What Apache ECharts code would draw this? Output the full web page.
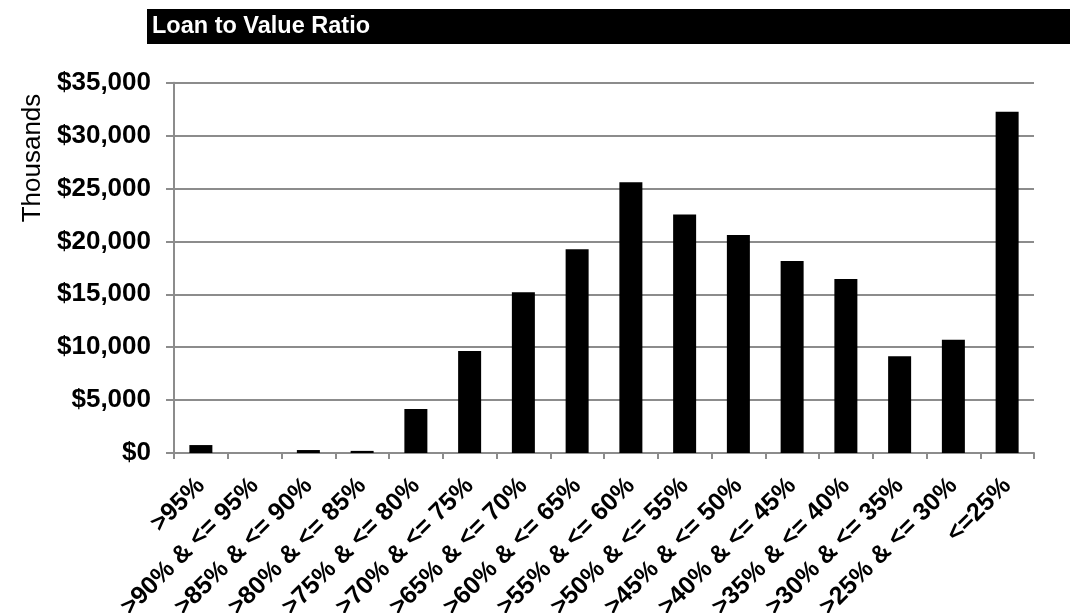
<!DOCTYPE html>
<html>
<head>
<meta charset="utf-8">
<script src="https://cdn.jsdelivr.net/npm/echarts@6/dist/echarts.min.js"></script>
<style>
html,body{margin:0;padding:0;background:#fff;}
#chart{width:1070px;height:613px;}
</style>
</head>
<body>
<div id="chart"></div>
<script>
const titleText = 'Loan to Value Ratio';
const yAxisTitle = 'Thousands';
const categories = ['>95%', '>90% & <= 95%', '>85% & <= 90%', '>80% & <= 85%', '>75% & <= 80%',
  '>70% & <= 75%', '>65% & <= 70%', '>60% & <= 65%', '>55% & <= 60%', '>50% & <= 55%',
  '>45% & <= 50%', '>40% & <= 45%', '>35% & <= 40%', '>30% & <= 35%', '>25% & <= 30%', '<=25%'];
const values = [750, 0, 280, 200, 4150, 9650, 15200, 19250, 25600, 22550, 20600, 18150, 16450, 9150, 10700, 32250];
const yMin = 0, yMax = 35000, yStep = 5000;

const chart = echarts.init(document.getElementById('chart'), null, {renderer: 'canvas'});
const font = 'Liberation Sans, Arial, sans-serif';
chart.setOption({
  animation: false,
  backgroundColor: '#ffffff',
  grid: {left: 174, right: 36, top: 82.7, bottom: 160, containLabel: false, outerBoundsMode: 'none'},
  graphic: [
    {type: 'rect', left: 147, top: 9, shape: {width: 923, height: 35}, style: {fill: '#000'}},
    {type: 'text', x: 152, y: 27, style: {text: titleText, fill: '#fff', font: 'bold 23.5px ' + font, verticalAlign: 'middle'}},
    {type: 'text', x: 33, y: 158, rotation: Math.PI / 2,
      style: {text: yAxisTitle, fill: '#000', font: '26px ' + font, align: 'center', verticalAlign: 'middle'}}
  ],
  xAxis: {
    type: 'category',
    data: categories,
    boundaryGap: true,
    axisLine: {lineStyle: {color: '#8c8c8c', width: 2}},
    axisTick: {show: true, alignWithLabel: false, length: 6, lineStyle: {color: '#8c8c8c', width: 2}},
    axisLabel: {interval: 0, rotate: 45, margin: 29, align: 'right', verticalAlign: 'middle',
      color: '#000', fontFamily: font, fontWeight: 'bold', fontSize: 25}
  },
  yAxis: {
    type: 'value',
    min: yMin, max: yMax, interval: yStep,
    axisLine: {show: true, lineStyle: {color: '#8c8c8c', width: 2}},
    axisTick: {show: true, inside: false, length: 8, lineStyle: {color: '#8c8c8c', width: 2}},
    splitLine: {show: true, lineStyle: {color: '#8c8c8c', width: 2}},
    axisLabel: {
      margin: 23, color: '#000', fontFamily: font, fontWeight: 'bold', fontSize: 26,
      formatter: v => '$' + v.toLocaleString('en-US')
    }
  },
  series: [{
    type: 'bar',
    data: values,
    barWidth: 23,
    itemStyle: {color: '#000'}
  }]
});
</script>
</body>
</html>
